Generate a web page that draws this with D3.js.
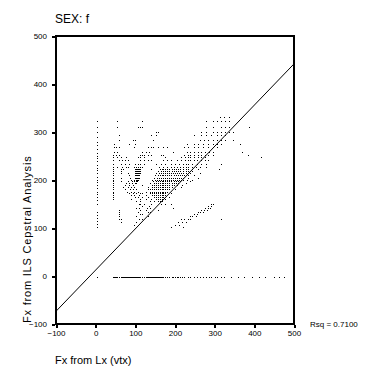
<!DOCTYPE html>
<html>
<head>
<meta charset="utf-8">
<script src="https://cdn.jsdelivr.net/npm/d3@7"></script>
<style>
  body { margin: 0; background: #fff; }
  text { font-family: "Liberation Sans", Arial, sans-serif; fill: #000; }
</style>
</head>
<body>
<div id="scatter"></div>
<script>
var w = 376;
var h = 376;

// axis ticks
var xTicks = [-100, 0, 100, 200, 300, 400, 500];
var yTicks = [-100, 0, 100, 200, 300, 400, 500];

// fit line (Rsq = 0.7100)
var fitIntercept = 12.4;
var fitSlope = 0.859;
var rsqLabel = "Rsq = 0.7100";

// points sitting on the Lx = 3 column
var colX = 3;
var colY = [322, 311, 301, 290, 280, 272, 264, 257, 251, 245, 239, 232, 226, 220, 214, 207, 201, 195,
            189, 183, 176, 170, 164, 158, 151, 133, 127, 120, 114, 108, 102, -2];

// points sitting on the ILS = -2 row (voiceless frames)
var rowY = -2;
var rowX = [43, 45, 48, 50, 53, 55, 58, 60, 63, 66, 68, 71, 73, 76, 78, 81, 83, 86, 88, 91, 93, 96,
            98, 101, 103, 106, 108, 111, 113, 116, 118, 121, 123, 126, 129, 131, 134, 136, 139, 141,
            144, 146, 149, 151, 154, 156, 159, 161, 164, 166, 169, 171, 174, 176, 179, 184, 186, 192,
            194, 199, 204, 207, 212, 217, 222, 232, 239, 247, 255, 262, 270, 277, 285, 292, 300, 307,
            315, 323, 340, 358, 375, 393, 411, 428, 449, 461, 476];

// the main cloud, one entry per ILS value: [y, x values]
var cloudRows = [
  [332, [313, 323, 335]],
  [322, [55, 116, 277, 295, 305, 315, 325, 335]],
  [311, [55, 106, 111, 116, 277, 295, 315, 325, 335, 386]],
  [301, [151, 156, 265, 277, 295, 305, 315, 325, 335, 345]],
  [293, [58, 139, 151, 247, 265, 277, 290, 305, 315, 325]],
  [284, [58, 93, 98, 144, 262, 272, 282, 295, 305, 315, 325, 345]],
  [276, [45, 83, 98, 229, 247, 257, 270, 282, 295, 305, 315, 365]],
  [268, [45, 50, 58, 96, 131, 139, 144, 156, 171, 181, 222, 234, 247, 257, 270, 282, 295, 305]],
  [259, [45, 55, 116, 126, 134, 194, 229, 239, 247, 257, 265, 275, 285, 295, 370]],
  [253, [43, 50, 58, 111, 116, 121, 131, 139, 164, 171, 222, 232, 239, 247, 257, 265, 275, 282, 295, 383]],
  [247, [43, 53, 63, 76, 106, 113, 121, 176, 214, 224, 232, 239, 247, 257, 265, 275, 416]],
  [241, [43, 58, 66, 73, 81, 113, 121, 131, 139, 171, 181, 189, 204, 214, 224, 232, 239, 247, 255, 265, 275, 282]],
  [234, [43, 63, 73, 83, 98, 106, 113, 121, 151, 164, 176, 189, 199, 209, 219, 227, 234, 244, 255, 265, 277, 315]],
  [228, [43, 55, 66, 76, 81, 96, 101, 106, 111, 116, 159, 169, 179, 189, 197, 204, 212, 219, 227, 234, 242, 252, 262, 277]],
  [222, [43, 63, 68, 98, 101, 103, 106, 108, 111, 139, 161, 166, 171, 176, 181, 186, 192, 197, 202, 207, 212, 219, 227, 234, 242, 257, 310]],
  [218, [43, 63, 98, 101, 104, 106, 109, 111, 156, 164, 171, 176, 181, 186, 192, 197, 202, 207, 212, 219, 227, 232, 242]],
  [214, [43, 63, 81, 98, 101, 104, 106, 109, 111, 151, 159, 164, 169, 174, 179, 184, 189, 194, 199, 204, 209, 214, 219, 227, 237, 262]],
  [210, [43, 83, 98, 101, 104, 106, 109, 149, 156, 161, 166, 171, 176, 181, 186, 191, 197, 202, 207, 212, 217, 222, 232, 247]],
  [205, [43, 63, 86, 98, 101, 104, 106, 109, 146, 154, 159, 164, 169, 174, 179, 184, 189, 194, 199, 204, 209, 214, 219, 232, 257]],
  [201, [43, 88, 96, 101, 104, 106, 141, 149, 154, 159, 164, 169, 174, 179, 184, 189, 194, 199, 204, 209, 214, 219, 229, 242]],
  [197, [43, 63, 81, 91, 96, 101, 104, 144, 151, 156, 161, 166, 171, 176, 181, 186, 191, 197, 202, 207, 212, 239]],
  [193, [43, 76, 83, 91, 98, 101, 136, 146, 151, 156, 161, 166, 171, 176, 181, 186, 192, 197, 202, 207, 227]],
  [189, [43, 73, 83, 93, 118, 141, 146, 151, 156, 161, 166, 171, 176, 181, 186, 192, 197, 204, 217]],
  [185, [43, 68, 81, 88, 96, 131, 141, 146, 151, 156, 161, 166, 171, 176, 181, 186, 192, 214]],
  [181, [43, 73, 86, 93, 101, 131, 136, 141, 146, 151, 156, 161, 166, 171, 176, 181, 186, 199]],
  [176, [43, 78, 88, 96, 106, 126, 136, 141, 146, 151, 156, 161, 166, 171, 176, 181]],
  [172, [43, 83, 93, 101, 111, 118, 136, 141, 146, 151, 156, 161, 166, 171, 176, 189]],
  [168, [43, 88, 96, 108, 128, 141, 146, 151, 156, 161, 166, 171, 176]],
  [164, [43, 98, 106, 116, 131, 146, 151, 156, 161, 166, 171, 184]],
  [160, [43, 88, 111, 126, 139, 151, 156, 161, 166, 176]],
  [156, [101, 113, 136, 146, 156, 161, 166]],
  [149, [108, 113, 121, 139, 164, 174, 189, 290, 295]],
  [145, [118, 134, 282, 290]],
  [141, [101, 109, 129, 136, 194, 275, 282, 287]],
  [137, [58, 113, 128, 156, 265, 272, 280]],
  [133, [58, 106, 131, 136, 257, 262, 270]],
  [129, [58, 111, 116, 247, 255]],
  [125, [58, 101, 131, 239, 244, 252]],
  [118, [58, 63, 108, 116, 214, 222, 232, 239, 315]],
  [112, [63, 101, 207, 217, 227]],
  [106, [96, 199, 209]],
  [102, [189, 219]]
];

// flatten everything into one point list
var points = [];
colY.forEach(y => points.push({ x: colX, y: y }));
rowX.forEach(x => points.push({ x: x, y: rowY }));
cloudRows.forEach(r => r[1].forEach(x => points.push({ x: x, y: r[0] })));

var xscale = d3.scaleLinear().domain([-100, 500]).range([56, 294]);
var yscale = d3.scaleLinear().domain([-100, 500]).range([324, 36]);

var svg = d3.select("#scatter")
            .append("svg")
            .attr("width", w)
            .attr("height", h);

// title
svg.append("text")
   .attr("x", 55)
   .attr("y", 23)
   .style("font-size", "12px")
   .text("SEX: f");

// clip for the fit line
svg.append("clipPath")
   .attr("id", "plotclip")
   .append("rect")
   .attr("x", 56).attr("y", 36)
   .attr("width", 238).attr("height", 288);

// scatter dots, 1px each
svg.append("g")
   .selectAll("rect")
   .data(points)
   .enter()
   .append("rect")
   .attr("x", d => Math.round(xscale(d.x)))
   .attr("y", d => Math.round(yscale(d.y)))
   .attr("width", 1)
   .attr("height", 1)
   .attr("fill", "#000");

// fit line
svg.append("line")
   .attr("clip-path", "url(#plotclip)")
   .attr("x1", xscale(-100))
   .attr("y1", yscale(fitIntercept + fitSlope * -100))
   .attr("x2", xscale(500))
   .attr("y2", yscale(fitIntercept + fitSlope * 500))
   .attr("stroke", "#000")
   .attr("stroke-width", 1);

// frame
svg.append("rect")
   .attr("x", 56).attr("y", 36)
   .attr("width", 238).attr("height", 288)
   .attr("fill", "none")
   .attr("stroke", "#000")
   .attr("stroke-width", 2)
   .attr("shape-rendering", "crispEdges");

// x axis
var gx = svg.append("g")
   .attr("transform", "translate(0, 325)")
   .call(d3.axisBottom(xscale).tickValues(xTicks).tickSize(3).tickSizeOuter(0).tickPadding(2));
gx.select(".domain").remove();
gx.selectAll("line").attr("stroke-width", 2).attr("shape-rendering", "crispEdges");
gx.selectAll("text").style("font-size", "8px").style("font-family", "'Liberation Sans', Arial, sans-serif");

// y axis
var gy = svg.append("g")
   .attr("transform", "translate(55, 0)")
   .call(d3.axisLeft(yscale).tickValues(yTicks).tickSize(3).tickSizeOuter(0).tickPadding(5));
gy.select(".domain").remove();
gy.selectAll("line").attr("stroke-width", 2).attr("shape-rendering", "crispEdges");
gy.selectAll("text").style("font-size", "8px").style("font-family", "'Liberation Sans', Arial, sans-serif");

// x axis label
svg.append("text")
   .attr("x", 55)
   .attr("y", 364)
   .style("font-size", "11px")
   .text("Fx from Lx (vtx)");

// y axis label
svg.append("text")
   .attr("transform", "translate(31, 323) rotate(-90)")
   .style("font-size", "11px")
   .style("letter-spacing", "0.8px")
   .text("Fx from ILS Cepstral Analysis");

// Rsq note
svg.append("text")
   .attr("x", 310)
   .attr("y", 327)
   .style("font-size", "8px")
   .text(rsqLabel);
</script>
</body>
</html>
